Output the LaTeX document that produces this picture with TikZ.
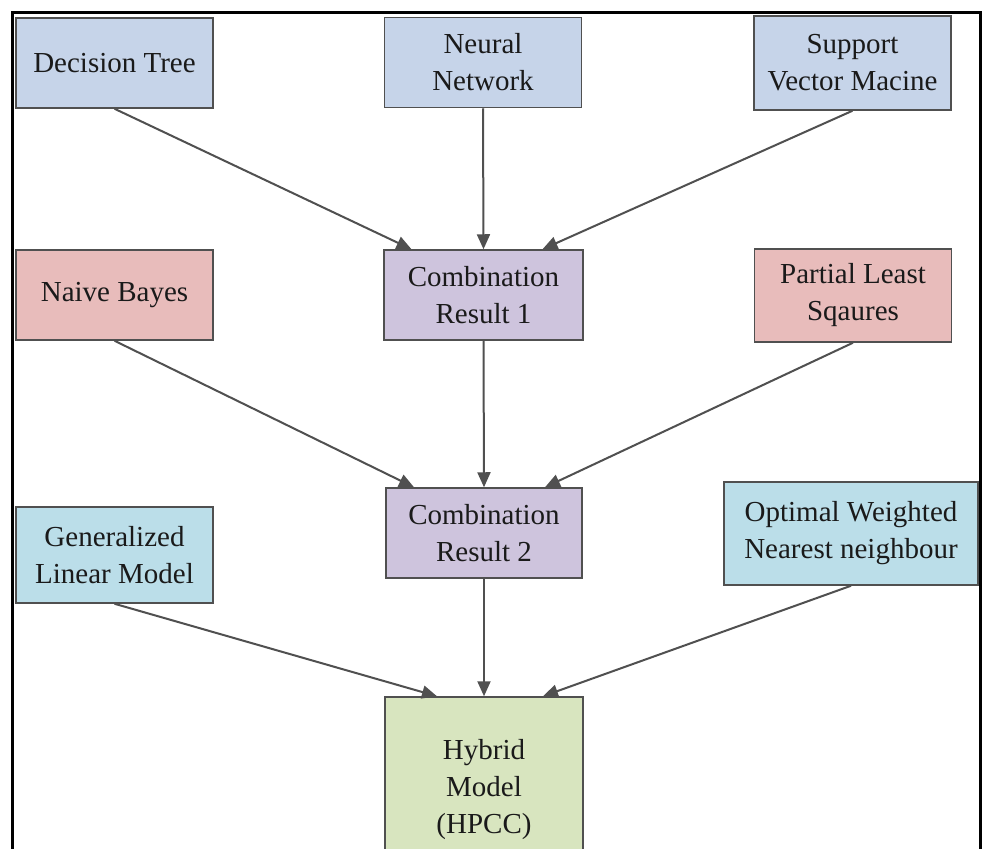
\documentclass[tikz,border=0pt]{standalone}
\usepackage{fontspec}
\setmainfont{Liberation Serif}
\usetikzlibrary{arrows.meta}

\definecolor{edgegray}{HTML}{505050}
\definecolor{txt}{HTML}{1A1A1A}
\definecolor{fillblue}{HTML}{C6D4E9}
\definecolor{fillpink}{HTML}{E8BCBB}
\definecolor{fillpurple}{HTML}{CEC4DD}
\definecolor{fillcyan}{HTML}{BBDEE9}
\definecolor{fillgreen}{HTML}{D8E5BF}

\tikzset{
  box/.style={draw=edgegray, line width=1.5pt, rectangle, align=center,
    text=txt, inner sep=0pt, minimum width=197pt, minimum height=90pt,
    font=\fontsize{29}{37}\selectfont},
  flow/.style={draw=edgegray, line width=2pt,
    -{Triangle[length=15pt,width=13pt]}},
}

\begin{document}
\begin{tikzpicture}[x=1pt,y=-1pt]
  \useasboundingbox (0,0) rectangle (986,849);
  \clip (0,0) rectangle (986,849);
  \fill[white] (0,0) rectangle (986,849);

  % outer frame, open at the bottom
  \draw[black, line width=3pt] (12,860) -- (12,12) -- (980,12) -- (980,860);

  % first row: base classifiers
  \node[box, fill=fillblue] (dt)  at (114.5,63)  {Decision Tree};
  \node[box, fill=fillblue] (nn)  at (483,62.5)  {Neural\\Network};
  \node[box, fill=fillblue, minimum height=94pt] (svm) at (852.5,63) {Support\\Vector Macine};

  % second row
  \node[box, fill=fillpink]   (nb)  at (114.5,295) {Naive Bayes};
  \node[box, fill=fillpurple, minimum width=199pt] (cr1) at (483.5,295) {Combination\\Result 1};
  \node[box, fill=fillpink, minimum height=93pt] (pls) at (853,295.5) {Partial Least\\Sqaures};

  % third row
  \node[box, fill=fillcyan, minimum height=96pt] (glm) at (114.5,555) {Generalized\\Linear Model};
  \node[box, fill=fillpurple, minimum width=196pt] (cr2) at (484,533) {Combination\\Result 2};
  \node[box, fill=fillcyan, minimum width=254pt, minimum height=103pt] (own) at (851,533.5) {Optimal Weighted\\Nearest neighbour};

  % final model
  \node[box, fill=fillgreen, minimum width=198pt, minimum height=186pt] (hyb) at (484,790) {Hybrid\\Model\\(HPCC)};

  % connectors
  \draw[flow] (dt.south)  -- ([xshift=-72pt]cr1.north);
  \draw[flow] (nn.south)  -- (cr1.north);
  \draw[flow] (svm.south) -- ([xshift=59pt]cr1.north);

  \draw[flow] (nb.south)  -- ([xshift=-70pt]cr2.north);
  \draw[flow] (cr1.south) -- (cr2.north);
  \draw[flow] (pls.south) -- ([xshift=61pt]cr2.north);

  \draw[flow] (glm.south) -- ([xshift=-47pt]hyb.north);
  \draw[flow] (cr2.south) -- (hyb.north);
  \draw[flow] (own.south) -- ([xshift=59pt]hyb.north);
\end{tikzpicture}
\end{document}
